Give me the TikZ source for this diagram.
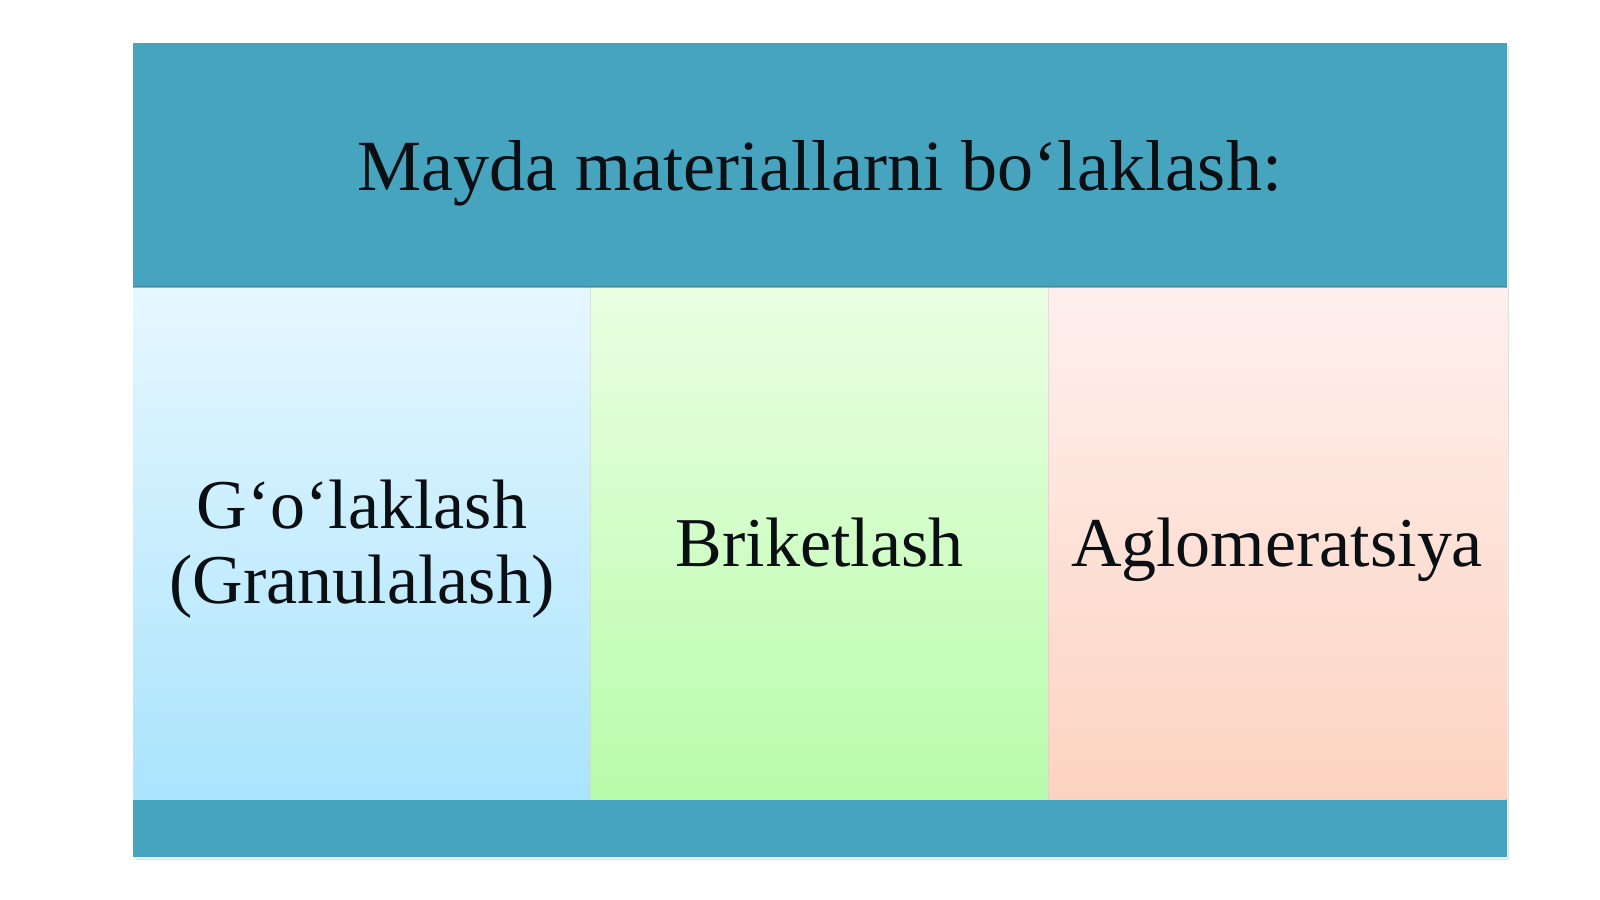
\documentclass[tikz,border=0pt]{standalone}
\usepackage{fontspec}
\setmainfont{Liberation Serif}
\definecolor{hdr}{HTML}{47A4BE}
\definecolor{bluetop}{HTML}{E6F7FF}
\definecolor{bluebot}{HTML}{AAE4FD}
\definecolor{greentop}{HTML}{EAFFE2}
\definecolor{greenbot}{HTML}{B8FCAA}
\definecolor{peachtop}{HTML}{FEF0EE}
\definecolor{peachbot}{HTML}{FDD3C0}
\definecolor{txt}{HTML}{0A0F14}
\tikzset{
  panel/.style={anchor=north west, inner sep=0pt, outer sep=0pt, minimum width=4.5767cm, minimum height=5.12cm},
  bar/.style={anchor=north west, inner sep=0pt, outer sep=0pt, fill=hdr, minimum width=13.73cm},
  label/.style={anchor=base, inner sep=0pt, text=txt, align=center, font=\fontsize{19.9}{21.1}\selectfont},
  ttl/.style={anchor=base, inner sep=0pt, text=txt, font=\fontsize{20.5}{24}\selectfont}
}
\begin{document}
\begin{tikzpicture}[x=0.01cm,y=-0.01cm]
\useasboundingbox[fill=white] (0,0) rectangle (1600,900);
% shadow
\fill[black!12] (136,46) rectangle (1509,860);
\fill[black!6] (134,44) rectangle (1508,859);
% header and bottom bar
\node[bar, minimum height=2.44cm] (head) at (133,43) {};
\node[bar, minimum height=0.58cm] (foot) at (133,799) {};
% column panels
\node[panel, top color=bluetop, bottom color=bluebot] (p1) at (133,287) {};
\node[panel, top color=greentop, bottom color=greenbot] (p2) at (590.67,287) {};
\node[panel, top color=peachtop, bottom color=peachbot] (p3) at (1048.33,287) {};
% thin separators
\draw[white!60!gray, line width=0.3pt, opacity=0.5] (p1.north east) -- (p1.south east);
\draw[white!60!gray, line width=0.3pt, opacity=0.5] (p2.north east) -- (p2.south east);
\draw[hdr!70!black, line width=0.4pt, opacity=0.5] (head.south west) -- (head.south east);
% texts
\node[ttl] (title) at (819.5,190) {Mayda materiallarni bo‘laklash:};
\node[label] (t1) at (362,603) {G‘o‘laklash\\(Granulalash)};
\node[label] (t2) at (819.5,566) {Briketlash};
\node[label] (t3) at (1277,566) {Aglomeratsiya};
\end{tikzpicture}
\end{document}
